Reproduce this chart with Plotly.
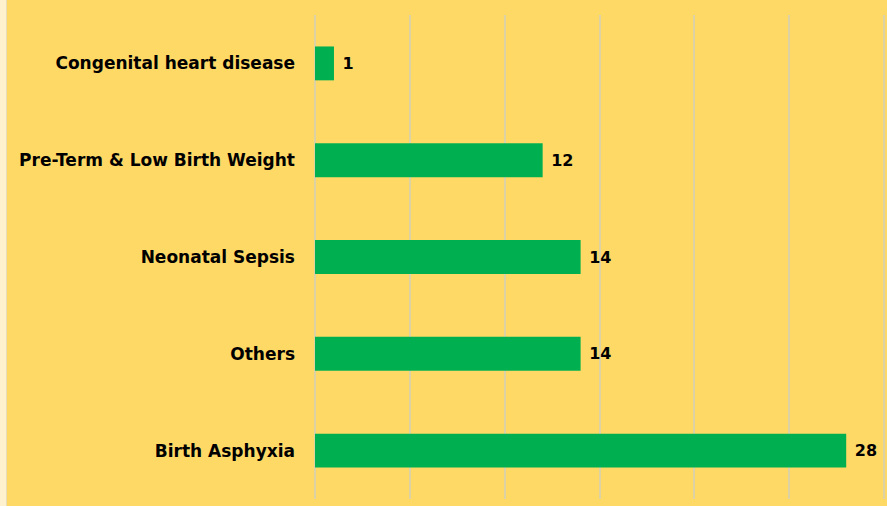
import plotly.graph_objects as go

categories = ["Birth Asphyxia", "Others", "Neonatal Sepsis", "Pre-Term & Low Birth Weight", "Congenital heart disease"]
values = [28, 14, 14, 12, 1]
grid_ticks = [0, 5, 10, 15, 20, 25, 30]

BG = "#FFD966"
GREEN = "#00B050"
GRID = "#DCD2A4"
FONT = "DejaVu Sans"

fig = go.Figure(go.Bar(
    y=categories, x=values, orientation="h",
    marker=dict(color=GREEN, line=dict(width=0)),
    width=0.35,
    text=[f" {v}" for v in values], textposition="outside",
    textfont=dict(family=FONT, size=16, color="black", weight="bold"),
    cliponaxis=False,
))

W_PLOT = 887 - 315
fig.update_layout(
    width=887, height=506,
    paper_bgcolor=BG, plot_bgcolor=BG,
    margin=dict(l=315, r=0, t=15, b=506 - 499, pad=0),
    showlegend=False,
    xaxis=dict(range=[0, 30.15], tickvals=grid_ticks, showticklabels=False, showgrid=True,
               gridcolor=GRID, gridwidth=1.5, zeroline=True, zerolinecolor=GRID, zerolinewidth=1.5,
               showline=False, fixedrange=True),
    yaxis=dict(showgrid=False, ticklabelstandoff=19,
               tickfont=dict(family=FONT, size=17, color="black", weight="bold"),
               showline=False, fixedrange=True),
    shapes=[
        dict(type="rect", xref="paper", yref="paper", x0=-315 / W_PLOT, x1=-309 / W_PLOT, y0=-1, y1=2,
             fillcolor="#FEF1CF", line=dict(width=0), layer="below"),
        dict(type="line", xref="paper", yref="paper", x0=-308.5 / W_PLOT, x1=-308.5 / W_PLOT, y0=-1, y1=2,
             line=dict(color="#E9DDB8", width=1), layer="below"),
        dict(type="line", xref="x", yref="paper", x0=grid_ticks[-1], x1=grid_ticks[-1], y0=0, y1=1,
             line=dict(color=GRID, width=2), layer="above"),
    ],
)

fig.write_html("out.html", config={"displayModeBar": False},
               post_script="document.body.style.margin='0';document.body.style.padding='0';")
